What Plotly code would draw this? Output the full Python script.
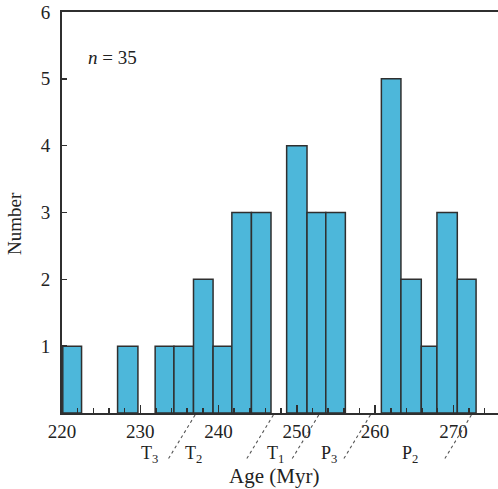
import plotly.graph_objects as go

# Histogram bins (Myr) and counts
bin_start = [220.1, 227.1, 231.9, 234.3, 236.8, 239.3, 241.7, 244.2, 248.7, 251.3, 253.7, 260.8, 263.3, 265.9, 267.9, 270.5]
bin_end   = [222.5, 229.7, 234.3, 236.8, 239.3, 241.7, 244.2, 246.7, 251.3, 253.7, 256.2, 263.3, 265.9, 267.9, 270.5, 272.9]
counts    = [1, 1, 1, 1, 2, 1, 3, 3, 4, 3, 3, 5, 2, 1, 3, 2]

x_ticks = [220, 230, 240, 250, 260, 270]
y_ticks = [1, 2, 3, 4, 5, 6]

# Period boundaries (Myr) and period labels
boundaries = [237.0, 247.0, 252.8, 259.4, 272.3]
periods = ["T<sub>3</sub>", "T<sub>2</sub>", "T<sub>1</sub>", "P<sub>3</sub>", "P<sub>2</sub>"]
period_x = [231.2, 236.8, 247.3, 254.1, 264.5]

W, H = 498, 489
ML, MR, MT, MB = 62, 0, 12, 76
XR = [220, 275.7]
YR = [0, 6]

centers = [(a + b) / 2 for a, b in zip(bin_start, bin_end)]
widths = [b - a for a, b in zip(bin_start, bin_end)]

FONT = "Liberation Serif, Times New Roman, serif"
LINE = "#2f2f2f"
TXT = "#222"

fig = go.Figure()
fig.add_trace(go.Bar(
    x=centers, y=counts, width=widths,
    marker=dict(color="#4DB7DA", line=dict(color=LINE, width=1.5)),
    showlegend=False, hoverinfo="skip",
))

ph = H - MT - MB
pw = W - ML - MR
def py(pix):  # page pixel y -> paper
    return (H - MB - pix) / ph
def px(pix):  # page pixel x -> paper
    return (pix - ML) / pw

shapes = []
for b in boundaries:
    shapes.append(dict(type="line", xref="x", yref="paper",
                       x0=b, y0=py(415), x1=b - 3.5, y1=py(460),
                       line=dict(color="#555", width=1.1, dash="3px,3px")))

annotations = []
for lab, xp in zip(periods, period_x):
    annotations.append(dict(text=lab, x=xp, y=py(454), xref="x", yref="paper",
                            showarrow=False, font=dict(family=FONT, size=18, color=TXT),
                            xanchor="center", yanchor="middle"))
annotations.append(dict(text="<i>n</i> = 35", x=px(112), y=py(57), xref="paper", yref="paper",
                        showarrow=False, font=dict(family=FONT, size=19, color=TXT),
                        xanchor="center", yanchor="middle"))
annotations.append(dict(text="Age (Myr)", x=px(274), y=py(476), xref="paper", yref="paper",
                        showarrow=False, font=dict(family=FONT, size=21, color=TXT),
                        xanchor="center", yanchor="middle"))
annotations.append(dict(text="Number", x=px(15), y=py(224), xref="paper", yref="paper",
                        textangle=-90, showarrow=False, font=dict(family=FONT, size=19, color=TXT),
                        xanchor="center", yanchor="middle"))

fig.update_layout(
    width=W, height=H,
    margin=dict(l=ML, r=MR, t=MT, b=MB, autoexpand=False),
    plot_bgcolor="white", paper_bgcolor="white",
    bargap=0,
    shapes=shapes, annotations=annotations,
    xaxis=dict(range=XR, tickvals=x_ticks, ticks="inside", ticklen=8, tickwidth=1.5,
               tickcolor=LINE, showline=True, linecolor=LINE, linewidth=2, mirror=True,
               showgrid=False, zeroline=False, ticklabelstandoff=0, ticklabeloverflow="allow",
               tickfont=dict(family=FONT, size=19, color=TXT),
               minor=dict(tick0=220, dtick=2, ticks="inside", ticklen=5, tickwidth=1.5, tickcolor=LINE)),
    yaxis=dict(range=YR, tickvals=y_ticks, ticks="inside", ticklen=5, tickwidth=1.5,
               tickcolor=LINE, showline=True, linecolor=LINE, linewidth=2,
               showgrid=False, zeroline=False, ticklabelstandoff=6, ticklabeloverflow="allow",
               tickfont=dict(family=FONT, size=19, color=TXT)),
)

fig.write_html("out.html", config={"displayModeBar": False, "staticPlot": True},
               post_script="document.body.style.margin='0';document.body.style.overflow='hidden';")
